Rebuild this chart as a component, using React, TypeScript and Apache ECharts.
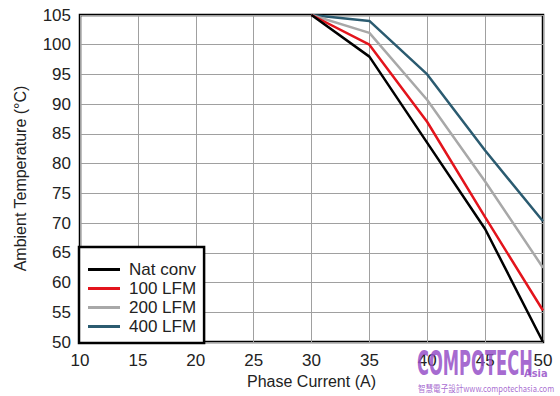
import React, { useEffect, useRef } from "react";
import * as echarts from "echarts";

const xValues = [30, 35, 40, 45, 50];
const natConv = [105, 98, 83.5, 69, 50];
const lfm100 = [105, 100, 87, 71, 55.3];
const lfm200 = [105, 102, 90.7, 77, 62.5];
const lfm400 = [105, 104, 95, 82.2, 70.3];
const seriesNames = ["Nat conv", "100 LFM", "200 LFM", "400 LFM"];
const seriesColors = ["#000000", "#e3141c", "#a8a8a8", "#2b5b70"];

export default function App() {
  const ref = useRef<HTMLDivElement>(null);
  useEffect(() => {
    document.body.style.margin = "0";
    if (!ref.current) return;
    const chart = echarts.init(ref.current, null, { renderer: "svg" });
    const all = [natConv, lfm100, lfm200, lfm400];
    const font = "Liberation Sans, Arial, sans-serif";
    chart.setOption({
      animation: false,
      backgroundColor: "#ffffff",
      grid: {
        left: 80,
        right: 17,
        top: 15,
        bottom: 54,
        show: true,
        borderColor: "#000",
        borderWidth: 2.5,
        backgroundColor: "#fff",
      },
      xAxis: {
        type: "value",
        min: 10,
        max: 50,
        interval: 5,
        name: "Phase Current (A)",
        nameLocation: "middle",
        nameGap: 30,
        nameTextStyle: { fontSize: 16, color: "#222", fontFamily: font },
        axisLine: { show: false },
        axisTick: { show: false },
        axisLabel: { fontSize: 17, color: "#222", margin: 10, fontFamily: font },
        splitLine: { show: true, lineStyle: { color: "#a0a0a0", width: 1 } },
      },
      yAxis: {
        type: "value",
        min: 50,
        max: 105,
        interval: 5,
        name: "Ambient Temperature (°C)",
        nameLocation: "middle",
        nameGap: 52,
        nameTextStyle: { fontSize: 16, color: "#222", fontFamily: font },
        axisLine: { show: false },
        axisTick: { show: false },
        axisLabel: { fontSize: 17, color: "#222", margin: 9, fontFamily: font },
        splitLine: { show: true, lineStyle: { color: "#a0a0a0", width: 1 } },
      },
      legend: {
        orient: "vertical",
        left: 79,
        bottom: 53,
        padding: [14, 8, 8, 9],
        itemGap: 2,
        itemWidth: 32,
        itemHeight: 3,
        icon: "rect",
        backgroundColor: "#fff",
        borderColor: "#000",
        borderWidth: 2.5,
        textStyle: { fontSize: 17, color: "#222", fontFamily: font, padding: [0, 0, 0, 4] },
        data: seriesNames,
      },
      series: seriesNames.map((name, i) => ({
        name,
        type: "line",
        data: xValues.map((x, j) => [x, all[i][j]]),
        symbol: "none",
        color: seriesColors[i],
        lineStyle: { width: 2.5, color: seriesColors[i] },
        z: 2 + (3 - i),
      })),
      graphic: [
        {
          type: "text",
          left: 417,
          top: 347,
          z: 100,
          style: {
            text: "COMPOTECH",
            fontSize: 33,
            fontWeight: "bold",
            fontFamily: "DejaVu Sans Condensed, sans-serif",
            fill: "rgba(150, 80, 200, 0.85)",
          },
          scaleX: 0.55,
        },
        {
          type: "text",
          left: 524,
          top: 368,
          z: 100,
          style: {
            text: "Asia",
            fontSize: 11,
            fontWeight: "bold",
            fontFamily: "DejaVu Sans Condensed, sans-serif",
            fill: "rgba(150, 80, 200, 0.85)",
          },
        },
        {
          type: "text",
          left: 418,
          top: 383,
          z: 100,
          style: {
            text: "智慧電子設計www.compotechasia.com",
            fontSize: 9,
            fontFamily: "Noto Sans CJK TC, DejaVu Sans Condensed, sans-serif",
            fill: "rgba(150, 80, 200, 0.85)",
          },
          scaleX: 0.84,
        },
      ],
    });
    return () => chart.dispose();
  }, []);
  return <div ref={ref} style={{ width: 560, height: 396 }} />;
}
